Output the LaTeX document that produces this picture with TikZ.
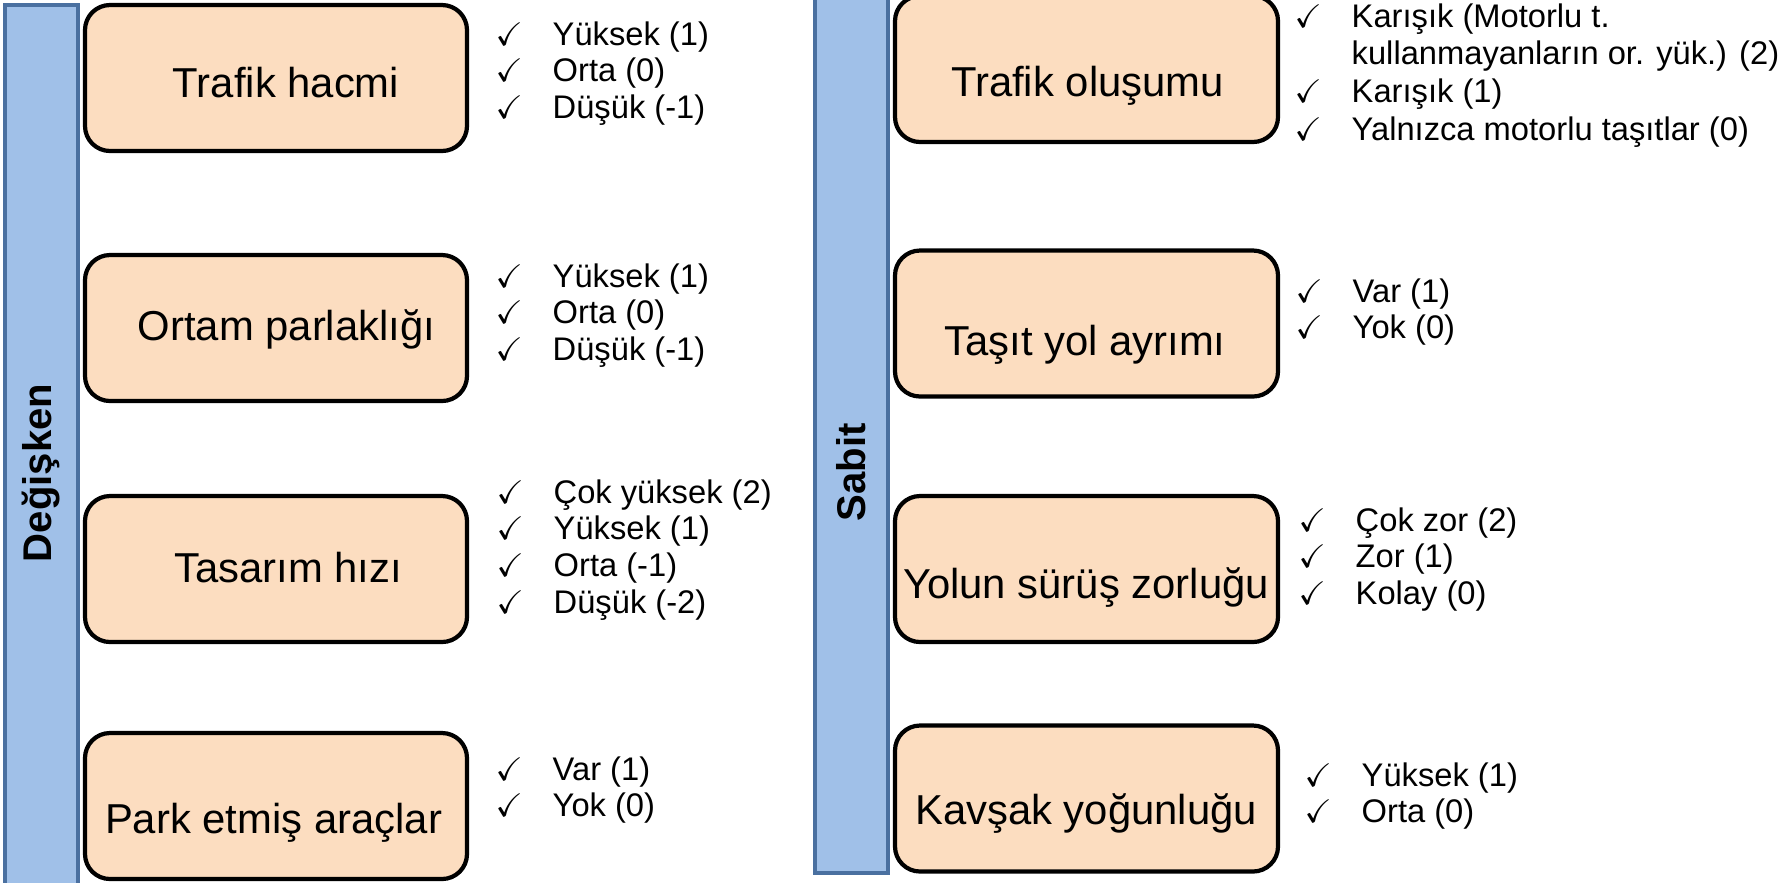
\documentclass[tikz,border=0pt]{standalone}
\usepackage{amssymb}
\usepackage{fontspec}
\setmainfont{Liberation Sans}
\usetikzlibrary{positioning}

\definecolor{boxfill}{RGB}{252,221,192}
\definecolor{barfill}{RGB}{160,192,232}
\definecolor{barline}{RGB}{74,112,160}

\newcommand{\chk}{$\checkmark$}
\newcommand{\optlist}[1]{\begin{tabular}[t]{@{}p{0.57cm}@{}l@{}}#1\end{tabular}}

\begin{document}
\begin{tikzpicture}[x=1cm,y=-1cm,
	bar/.style={draw=barline,fill=barfill,line width=1.3pt,minimum width=0.73cm,inner sep=0pt},
	bartext/.style={rotate=90,inner sep=0pt,font=\fontsize{11.4}{13}\selectfont\bfseries},
	factor/.style={draw=black,fill=boxfill,line width=1.2pt,rounded corners=0.25cm,minimum width=3.82cm,minimum height=1.46cm,inner sep=0pt},
	factortext/.style={anchor=base,inner sep=0pt,font=\fontsize{11.9}{14}\selectfont},
	levels/.style={anchor=base west,inner sep=0pt,font=\fontsize{9.3}{10.5}\selectfont}]

		\useasboundingbox (0,0) rectangle (17.79,8.82);
		\clip (0,0) rectangle (17.79,8.82);

		%bars
		\node[bar,minimum height=9.45cm] (degisken) at (0.415,4.775) {};
		\node[bartext] (degiskentext) at (0.41,4.73) {Değişken};
		\node[bar,minimum height=9.23cm] (sabit) at (8.515,4.115) {};
		\node[bartext] (sabittext) at (8.51,4.72) {Sabit};

		%left boxes
		\node[factor] (l1) at (2.76,0.78) {};
		\node[factor] (l2) at (2.76,3.28) {};
		\node[factor] (l3) at (2.76,5.69) {};
		\node[factor] (l4) at (2.76,8.06) {};

		\node[factortext] (l1text) at (2.86,0.97) {Trafik hacmi};
		\node[factortext] (l2text) at (2.865,3.40) {Ortam parlaklığı};
		\node[factortext] (l3text) at (2.88,5.82) {Tasarım hızı};
		\node[factortext] (l4text) at (2.735,8.33) {Park etmiş araçlar};

		%left levels
		\node[levels] (l1lev) at (4.95,0.45) {\optlist{\chk & Yüksek (1)\\ \chk & Orta (0)\\ \chk & Düşük (-1)}};
		\node[levels] (l2lev) at (4.95,2.87) {\optlist{\chk & Yüksek (1)\\ \chk & Orta (0)\\ \chk & Düşük (-1)}};
		\node[levels] (l3lev) at (4.96,5.03) {\optlist{\chk & Çok yüksek (2)\\ \chk & Yüksek (1)\\ \chk & Orta (-1)\\ \chk & Düşük (-2)}};
		\node[levels] (l4lev) at (4.95,7.80) {\optlist{\chk & Var (1)\\ \chk & Yok (0)}};

		%right boxes
		\node[factor,minimum width=3.83cm] (r1) at (10.865,0.69) {};
		\node[factor,minimum width=3.83cm] (r2) at (10.865,3.235) {};
		\node[factor,minimum width=3.83cm] (r3) at (10.865,5.69) {};
		\node[factor,minimum width=3.83cm] (r4) at (10.865,7.985) {};

		\node[factortext] (r1text) at (10.875,0.96) {Trafik oluşumu};
		\node[factortext] (r2text) at (10.85,3.55) {Taşıt yol ayrımı};
		\node[factortext] (r3text) at (10.86,5.98) {Yolun sürüş zorluğu};
		\node[factortext] (r4text) at (10.86,8.24) {Kavşak yoğunluğu};

		%right levels
		\node[levels,font=\fontsize{9.3}{10.8}\selectfont] (r1lev) at (12.94,0.27) {\optlist{\chk & Karışık (Motorlu t.\\ & kullanmayanların or. yük.) (2)\\ \chk & Karışık (1)\\ \chk & Yalnızca motorlu taşıtlar (0)}};
		\node[levels] (r2lev) at (12.95,3.02) {\optlist{\chk & Var (1)\\ \chk & Yok (0)}};
		\node[levels] (r3lev) at (12.98,5.31) {\optlist{\chk & Çok zor (2)\\ \chk & Zor (1)\\ \chk & Kolay (0)}};
		\node[levels] (r4lev) at (13.04,7.86) {\optlist{\chk & Yüksek (1)\\ \chk & Orta (0)}};

\end{tikzpicture}
\end{document}
